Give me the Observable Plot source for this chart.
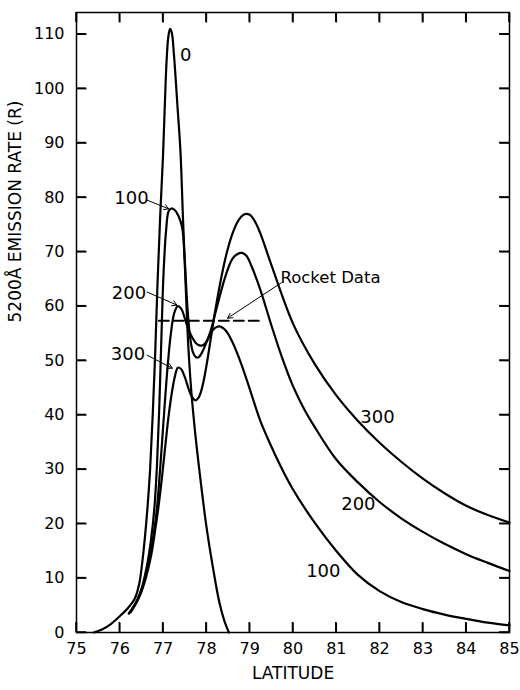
<!DOCTYPE html>
<html><head><meta charset="utf-8">
<script src="https://cdn.jsdelivr.net/npm/d3@7"></script>
<script src="https://cdn.jsdelivr.net/npm/@observablehq/plot@0.6"></script>
<style>body{margin:0;background:#fff} #chart svg{display:block}</style>
</head><body><div id="chart"></div>
<script>
// ---- data ----
const xTicks = [75, 76, 77, 78, 79, 80, 81, 82, 83, 84, 85];
const yTicks = [0, 10, 20, 30, 40, 50, 60, 70, 80, 90, 100, 110];
const xTitle = "LATITUDE";
const yTitle = "5200Å EMISSION RATE (R)";

const lat0 = [75.4, 75.6, 75.8, 76.0, 76.2, 76.35, 76.45, 76.52, 76.58, 76.64, 76.7, 76.76, 76.82, 76.87, 76.93, 77.0, 77.04, 77.08, 77.12, 77.16, 77.2, 77.25, 77.33, 77.4, 77.46, 77.52, 77.58, 77.65, 77.75, 77.85, 78.0, 78.15, 78.3, 78.42, 78.52];
const val0 = [0, 0.6, 1.6, 3.0, 4.6, 6.3, 9, 13, 17.5, 23, 30, 40, 52, 64, 76, 88, 97, 105, 109.5, 111, 110.3, 106.3, 97, 88.6, 76, 64, 53, 44.5, 36, 29, 19.5, 12, 5.5, 2, 0];

const lat100 = [76.21, 76.35, 76.5, 76.62, 76.72, 76.8, 76.86, 76.91, 76.96, 77.01, 77.07, 77.13, 77.2, 77.28, 77.36, 77.44, 77.5, 77.56, 77.62, 77.69, 77.76, 77.82, 77.9, 78.0, 78.1, 78.2, 78.3, 78.45, 78.6, 78.8, 79.0, 79.25, 79.5, 79.75, 80.0, 80.5, 81.0, 81.5, 82.0, 82.5, 83.0, 83.5, 84.0, 84.5, 85];
const val100 = [3.5, 5, 8, 12, 17, 23, 31, 41, 54, 66, 74, 77.5, 78, 77.6, 76.5, 74.5, 68.5, 60, 54.5, 51.5, 50.6, 50.6, 51.5, 53.3, 55, 56, 56.3, 55.5, 53.4, 49.5, 44.8, 38.8, 34.2, 30.0, 26.3, 20.2, 15.0, 10.6, 7.6, 5.6, 4.3, 3.3, 2.5, 1.8, 1.3];

const lat200 = [76.21, 76.4, 76.55, 76.68, 76.78, 76.86, 76.94, 77.02, 77.1, 77.18, 77.26, 77.34, 77.42, 77.5, 77.58, 77.67, 77.76, 77.84, 77.92, 78.0, 78.1, 78.2, 78.33, 78.46, 78.6, 78.72, 78.82, 78.92, 79.05, 79.25, 79.5, 79.75, 80.0, 80.25, 80.5, 81.0, 81.5, 82.0, 82.5, 83.0, 83.5, 84.0, 84.5, 85];
const val200 = [3.5, 6, 9, 13.5, 18, 23, 31, 40, 48.5, 55, 58.8, 60, 59.5, 57.8, 55.8, 54.3, 53.2, 52.8, 52.8, 53.5, 55.5, 58.5, 62.5, 66, 68.7, 69.6, 69.8, 69.3, 67.2, 62.9, 56.5, 50.5, 45.3, 41.2, 37.8, 31.8, 27.6, 24.0, 21.0, 18.5, 16.3, 14.4, 12.8, 11.3];

const lat300 = [76.25, 76.45, 76.6, 76.72, 76.82, 76.9, 76.98, 77.06, 77.13, 77.2, 77.27, 77.34, 77.41, 77.5, 77.58, 77.66, 77.74, 77.82, 77.9, 78.0, 78.1, 78.2, 78.33, 78.46, 78.6, 78.74, 78.88, 79.0, 79.12, 79.25, 79.5, 80.0, 80.5, 81.0, 81.5, 82.0, 82.5, 83.0, 83.5, 84.0, 84.5, 85];
const val300 = [3.7, 6.5, 10, 14, 19, 23.5, 29, 35, 40, 44, 47, 48.7, 48.5, 47, 45, 43.4, 42.7, 43.2, 45, 49, 54, 59, 64.7, 69.5, 73.3, 75.8, 76.9, 76.8, 75.6, 73.3, 67.6, 56.8, 49.4, 43.6, 38.9, 34.9, 31.4, 28.3, 25.6, 23.3, 21.6, 20.2];

const rocketLat = [76.9, 79.3];
const rocketVal = [57.3, 57.3];

// annotation labels (data coordinates)
const curveLabels = [
  {text: "0",   x: 77.52, y: 106.1},
  {text: "100", x: 76.27, y: 79.8},
  {text: "200", x: 76.21, y: 62.3},
  {text: "300", x: 76.19, y: 51.1},
  {text: "300", x: 81.95, y: 39.5},
  {text: "200", x: 81.51, y: 23.5},
  {text: "100", x: 80.70, y: 11.2}
];
const rocketLabel = [{text: "Rocket Data", x: 79.71, y: 65.3}];
const arrows = [
  {x1: 76.63, y1: 79.5, x2: 77.13, y2: 77.9},
  {x1: 76.63, y1: 62.6, x2: 77.32, y2: 60.2},
  {x1: 76.63, y1: 51.0, x2: 77.21, y2: 48.6},
  {x1: 79.73, y1: 64.3, x2: 78.49, y2: 57.8}
];

// ---- build tables ----
const series = [
  {name: "0", lat: lat0, val: val0},
  {name: "100", lat: lat100, val: val100},
  {name: "200", lat: lat200, val: val200},
  {name: "300", lat: lat300, val: val300}
];
const rows = series.flatMap(s => s.lat.map((x, i) => ({series: s.name, x, y: s.val[i]})));
const rocketRows = rocketLat.map((x, i) => ({x, y: rocketVal[i]}));

// layout
const W = 520, H = 690, mT = 12, mB = 58, mL = 76, mR = 11;
const xDom = [75, 85], yDom = [0, 114];
const frameW = W - mL - mR, frameH = H - mT - mB;
const T = 10; // inward tick length in px
const tX = T * (xDom[1] - xDom[0]) / frameW;
const tY = T * (yDom[1] - yDom[0]) / frameH;

const tickSegs = [
  ...xTicks.map(v => ({x1: v, x2: v, y1: yDom[0], y2: yDom[0] + tY})),
  ...xTicks.map(v => ({x1: v, x2: v, y1: yDom[1] - tY, y2: yDom[1]})),
  ...yTicks.map(v => ({x1: xDom[0], x2: xDom[0] + tX, y1: v, y2: v})),
  ...yTicks.map(v => ({x1: xDom[1] - tX, x2: xDom[1], y1: v, y2: v}))
];

const chart = Plot.plot({
  width: W, height: H,
  marginTop: mT, marginBottom: mB, marginLeft: mL, marginRight: mR,
  x: {domain: xDom},
  y: {domain: yDom},
  style: {fontFamily: "DejaVu Sans", fontSize: "16px", color: "black", background: "white"},
  marks: [
    Plot.frame({stroke: "black", strokeWidth: 1.5}),
    Plot.link(tickSegs, {x1: "x1", y1: "y1", x2: "x2", y2: "y2", stroke: "black", strokeWidth: 1.5}),
    Plot.axisX(xTicks, {anchor: "bottom", tickSize: 0, tickPadding: 10, label: null, fontSize: 16}),
    Plot.axisY(yTicks, {anchor: "left", tickSize: 0, tickPadding: 12, label: null, fontSize: 16}),
    Plot.line(rows, {x: "x", y: "y", z: "series", curve: "catmull-rom", stroke: "black", strokeWidth: 2.2}),
    Plot.line(rocketRows, {x: "x", y: "y", stroke: "black", strokeWidth: 2, strokeDasharray: "10,5"}),
    Plot.arrow(arrows, {x1: "x1", y1: "y1", x2: "x2", y2: "y2", stroke: "black", strokeWidth: 1, headLength: 8}),
    Plot.text(curveLabels, {x: "x", y: "y", text: "text", fontSize: 18, fill: "black"}),
    Plot.text(rocketLabel, {x: "x", y: "y", text: "text", fontSize: 16.5, textAnchor: "start", fill: "black"}),
    Plot.text([yTitle], {frameAnchor: "left", dx: -61, rotate: -90, fontSize: 17, fill: "black"}),
    Plot.text([xTitle], {frameAnchor: "bottom", dy: 46, fontSize: 17, fill: "black"})
  ]
});
document.getElementById("chart").append(chart);

// also draw the inward ticks with the chart's own scales, as a fallback
const sx = chart.scale("x"), sy = chart.scale("y");
const svg = d3.select(chart);
const g = svg.append("g").attr("stroke", "black").attr("stroke-width", 1.5);
for (const v of xTicks) {
  const px = sx.apply(v), yb = sy.apply(yDom[0]), yt = sy.apply(yDom[1]);
  g.append("line").attr("x1", px).attr("x2", px).attr("y1", yb).attr("y2", yb - T);
  g.append("line").attr("x1", px).attr("x2", px).attr("y1", yt).attr("y2", yt + T);
}
for (const v of yTicks) {
  const py = sy.apply(v), xl = sx.apply(xDom[0]), xr = sx.apply(xDom[1]);
  g.append("line").attr("x1", xl).attr("x2", xl + T).attr("y1", py).attr("y2", py);
  g.append("line").attr("x1", xr).attr("x2", xr - T).attr("y1", py).attr("y2", py);
}
</script>
</body></html>
